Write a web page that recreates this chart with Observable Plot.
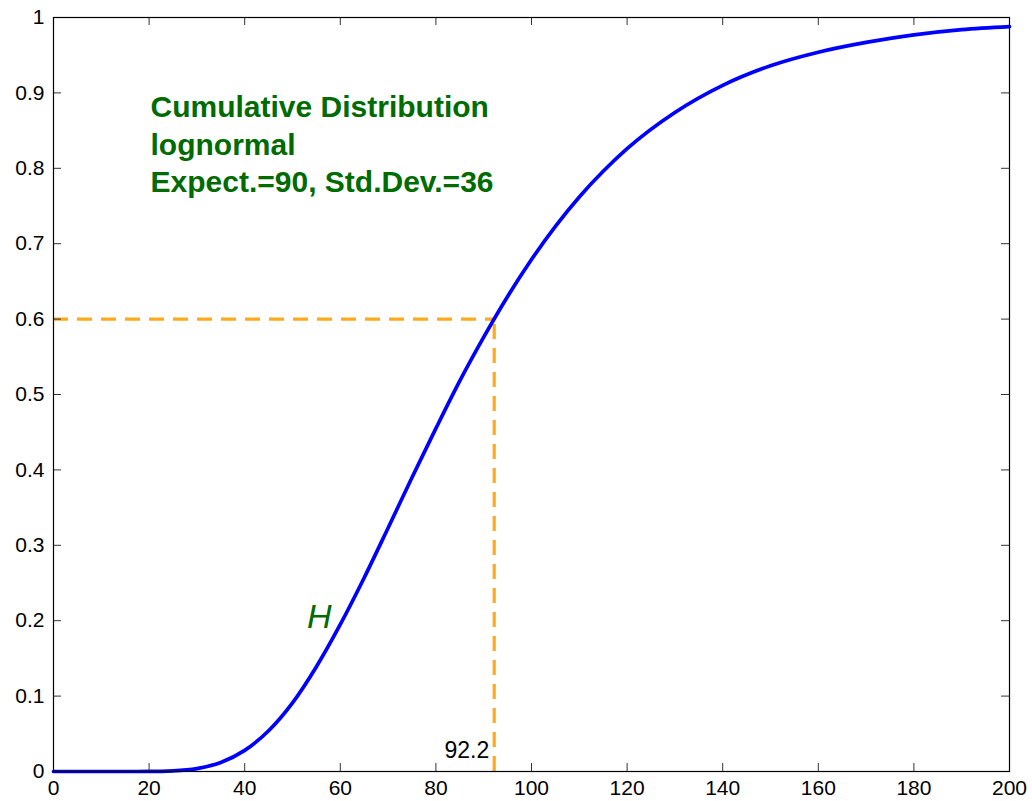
<!DOCTYPE html>
<html><head><meta charset="utf-8">
<script src="https://cdn.jsdelivr.net/npm/d3@7"></script>
<script src="https://cdn.jsdelivr.net/npm/@observablehq/plot@0.6"></script>
<style>body{margin:0;background:#fff}</style>
</head><body><div id="chart"></div>
<script>
// Curve values (cumulative probability H vs x)
const curveX = [0, 10, 15, 20, 25, 30, 35, 40, 45, 50, 55, 60, 65, 70, 75, 80, 85, 90, 95, 100, 105, 110, 115, 120, 130, 140, 150, 160, 170, 180, 190, 200];
const curveY = [0, 0, 0, 0.0001, 0.0009, 0.0039, 0.012, 0.028, 0.054, 0.091, 0.139, 0.195, 0.257, 0.323, 0.390, 0.455, 0.518, 0.576, 0.630, 0.679, 0.723, 0.762, 0.796, 0.826, 0.874, 0.910, 0.936, 0.954, 0.967, 0.977, 0.984, 0.988];
const xTicks = [0, 20, 40, 60, 80, 100, 120, 140, 160, 180, 200];
const yTicks = [0, 0.1, 0.2, 0.3, 0.4, 0.5, 0.6, 0.7, 0.8, 0.9, 1];
const markX = 92.2;
const markY = 0.6;
const markLabel = "92.2";
const titleLines = ["Cumulative Distribution", "lognormal", "Expect.=90, Std.Dev.=36"];
const curveLabel = "H";

const curve = curveX.map((x, i) => ({x, y: curveY[i]}));
const green = "#006b00";
const orange = "#ffaa1e";
const W = 1032, H = 801, ML = 53, MR = 23, MT = 17, MB = 30;
const FW = W - ML - MR, FH = H - MT - MB, TL = 8;

const chart = Plot.plot({
  width: W, height: H,
  marginLeft: ML, marginRight: MR, marginTop: MT, marginBottom: MB,
  style: {fontFamily: "'Liberation Sans', Arial, sans-serif", background: "#fff", color: "#000"},
  x: {domain: [0, 200]},
  y: {domain: [0, 1]},
  marks: [
    Plot.ruleY([markY], {x1: 0, x2: markX, stroke: orange, strokeWidth: 3.2, strokeDasharray: "15,9"}),
    Plot.ruleX([markX], {y1: 0, y2: markY, stroke: orange, strokeWidth: 3.2, strokeDasharray: "15,9"}),
    Plot.line(curve, {x: "x", y: "y", stroke: "#0000ff", strokeWidth: 3.7, curve: "monotone-x"}),
    Plot.ruleX(xTicks, {insetTop: FH - TL, stroke: "#333", strokeWidth: 1}),
    Plot.ruleX(xTicks, {insetBottom: FH - TL, stroke: "#333", strokeWidth: 1}),
    Plot.ruleY(yTicks, {insetRight: FW - TL, stroke: "#333", strokeWidth: 1}),
    Plot.ruleY(yTicks, {insetLeft: FW - TL, stroke: "#333", strokeWidth: 1}),
    Plot.frame({stroke: "#000", strokeWidth: 1.2}),
    Plot.axisX(xTicks, {anchor: "bottom", tickSize: 0, tickPadding: 9, fontSize: 21, label: null, fill: "#000", tickFormat: d3.format("~g")}),
    Plot.axisY(yTicks, {anchor: "left", tickSize: 0, tickPadding: 9, fontSize: 21, label: null, fill: "#000", tickFormat: d3.format("~g")}),
    Plot.text([titleLines.join("\n")], {x: 20.3, y: 0.768, textAnchor: "start", lineAnchor: "bottom", lineHeight: 1.25, fontSize: 30, fontWeight: "bold", fill: green}),
    Plot.text([curveLabel], {x: 55.6, y: 0.205, fontSize: 34, fontStyle: "italic", fill: green}),
    Plot.text([markLabel], {x: markX, y: 0, dx: -5, dy: -14, textAnchor: "end", lineAnchor: "bottom", fontSize: 23, fill: "#000"})
  ]
});
document.getElementById("chart").appendChild(chart);
</script>
</body></html>
